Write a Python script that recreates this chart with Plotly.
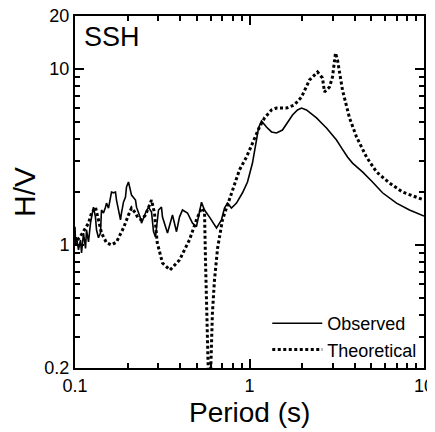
import plotly.graph_objects as go

# Observed H/V
obs_period = [0.100, 0.1007, 0.102, 0.1047, 0.1075, 0.109, 0.1119, 0.1149, 0.1164, 0.1195,
              0.1227, 0.1244, 0.1276, 0.131, 0.1328, 0.1363, 0.140, 0.1418, 0.1456, 0.1495,
              0.1515, 0.1556, 0.1597, 0.1619, 0.1662, 0.1706, 0.1729, 0.1775, 0.1823, 0.1847,
              0.1896, 0.1947, 0.1973, 0.2025, 0.208, 0.2108, 0.2222, 0.2252, 0.2373, 0.2405,
              0.2535, 0.2637, 0.2744, 0.2818, 0.2892, 0.301, 0.313, 0.3172, 0.3389, 0.3573,
              0.362, 0.3817, 0.397, 0.413, 0.4413, 0.4714, 0.4968, 0.5307, 0.5522, 0.590,
              0.6471, 0.691, 0.719, 0.748, 0.788, 0.8424, 0.912, 0.974, 1.04, 1.097,
              1.126, 1.172, 1.251, 1.337, 1.428, 1.545, 1.651, 1.764, 1.884, 1.986,
              2.121, 2.266, 2.421, 2.586, 2.763, 2.951, 3.152, 3.368, 3.645, 3.894,
              4.441, 5.07, 5.783, 6.958, 8.259, 10.0]
obs_hv = [1.27, 1.03, 1.11, 0.937, 1.068, 0.90, 1.17, 0.956, 1.22, 1.04,
          1.33, 1.42, 1.64, 1.44, 1.22, 1.10, 1.17, 1.58, 1.52, 1.64,
          1.73, 1.62, 1.87, 2.00, 1.98, 2.00, 1.80, 1.58, 1.39, 1.52,
          1.75, 1.87, 2.14, 2.28, 2.00, 1.92, 1.80, 1.64, 1.42, 1.33,
          1.52, 1.64, 1.54, 1.19, 1.11, 1.58, 1.64, 1.44, 1.17, 1.39,
          1.48, 1.19, 1.44, 1.58, 1.52, 1.33, 1.27, 1.75, 1.58, 1.44,
          1.25, 1.39, 1.62, 1.73, 1.62, 1.73, 1.98, 2.28, 2.92, 3.95,
          4.62, 5.06, 4.68, 4.39, 4.33, 4.50, 5.00, 5.48, 5.85, 6.00,
          5.85, 5.55, 5.27, 4.93, 4.62, 4.27, 3.95, 3.56, 3.16, 2.92,
          2.60, 2.28, 1.98, 1.73, 1.58, 1.46]

# Theoretical H/V
theo_period = [0.100, 0.1032, 0.1062, 0.1195, 0.1244, 0.131, 0.1363, 0.1418, 0.1515, 0.1619,
               0.1729, 0.1896, 0.2025, 0.2108, 0.2222, 0.2297, 0.2406, 0.2535, 0.2744, 0.2855,
               0.296, 0.3172, 0.3504, 0.397, 0.453, 0.4968, 0.5307, 0.5522, 0.56, 0.567,
               0.574, 0.581, 0.590, 0.600, 0.6057, 0.613, 0.630, 0.656, 0.700, 0.748,
               0.788, 0.831, 0.876, 0.961, 1.04, 1.141, 1.219, 1.337, 1.428, 1.630,
               1.811, 1.986, 2.208, 2.454, 2.62, 2.69, 2.874, 2.99, 3.11, 3.194,
               3.41, 3.742, 4.105, 4.683, 5.344, 6.343, 7.53, 10.0]
theo_hv = [1.00, 1.07, 1.10, 1.33, 1.52, 1.64, 1.39, 1.17, 1.03, 1.00,
           1.04, 1.25, 1.48, 1.62, 1.52, 1.42, 1.39, 1.48, 1.80, 1.52,
           1.03, 0.79, 0.721, 0.822, 1.07, 1.39, 1.62, 1.55, 0.79, 0.506,
           0.329, 0.20, 0.10, 0.20, 0.263, 0.41, 0.633, 0.956, 1.39, 1.69,
           1.97, 2.25, 2.67, 3.16, 3.80, 4.68, 5.27, 5.85, 6.00, 6.00,
           6.25, 6.93, 8.66, 9.61, 8.89, 7.40, 7.90, 9.01, 12.33, 11.25,
           7.60, 5.27, 4.11, 3.16, 2.60, 2.25, 2.00, 1.80]

series_names = ["Observed", "Theoretical"]
x_ticks = [0.1, 1, 10]
x_tick_text = ["0.1", "1", "10"]
y_ticks = [0.2, 1, 10, 20]
y_tick_text = ["0.2", "1", "10", "20"]
x_minor = [0.2, 0.3, 0.4, 0.5, 0.6, 0.7, 0.8, 0.9, 2, 3, 4, 5, 6, 7, 8, 9]
y_minor = [0.3, 0.4, 0.5, 0.6, 0.7, 0.8, 0.9, 2, 3, 4, 5, 6, 7, 8, 9]

FONT = "Liberation Sans, Arial, sans-serif"

fig = go.Figure()
fig.add_trace(go.Scatter(x=obs_period, y=obs_hv, mode="lines", name=series_names[0],
                         line=dict(color="black", width=1.6)))
fig.add_trace(go.Scatter(x=theo_period, y=theo_hv, mode="lines", name=series_names[1],
                         line=dict(color="black", width=3, dash="3px,2.5px")))

axis_common = dict(
    type="log", showgrid=False, zeroline=False,
    showline=True, linecolor="black", linewidth=2, mirror="allticks",
    ticks="inside", ticklen=9, tickwidth=1.5, tickcolor="black",
    ticklabeloverflow="allow",
    tickfont=dict(family=FONT, size=18, color="black"),
)

fig.update_xaxes(
    **axis_common,
    range=[-1, 1], tickvals=x_ticks, ticktext=x_tick_text,
    minor=dict(tickvals=x_minor, ticks="inside", ticklen=5, tickwidth=1.5, tickcolor="black"),
)
fig.update_yaxes(
    **axis_common,
    range=[-0.69897, 1.30103], tickvals=y_ticks, ticktext=y_tick_text,
    minor=dict(tickvals=y_minor, ticks="inside", ticklen=5, tickwidth=1.5, tickcolor="black"),
    title=dict(text="H/V", font=dict(family=FONT, size=30, color="black"), standoff=13),
)

fig.add_annotation(text="Period (s)", xref="paper", yref="paper", x=0.5, y=0,
                   xanchor="center", yanchor="middle", yshift=-44, showarrow=False,
                   font=dict(family=FONT, size=28, color="black"))

fig.add_annotation(text="SSH", xref="paper", yref="paper", x=0.02, y=0.99,
                   xanchor="left", yanchor="top", showarrow=False,
                   font=dict(family=FONT, size=27, color="black"))

fig.update_layout(
    width=427, height=424,
    margin=dict(l=67, r=11, t=8, b=64, autoexpand=False),
    paper_bgcolor="white", plot_bgcolor="white",
    showlegend=True,
    legend=dict(x=0.995, y=0.0, xanchor="right", yanchor="bottom",
                bgcolor="rgba(0,0,0,0)", borderwidth=0,
                font=dict(family=FONT, size=18, color="black"),
                itemwidth=50, tracegroupgap=0),
)

fig.write_html("out.html")
